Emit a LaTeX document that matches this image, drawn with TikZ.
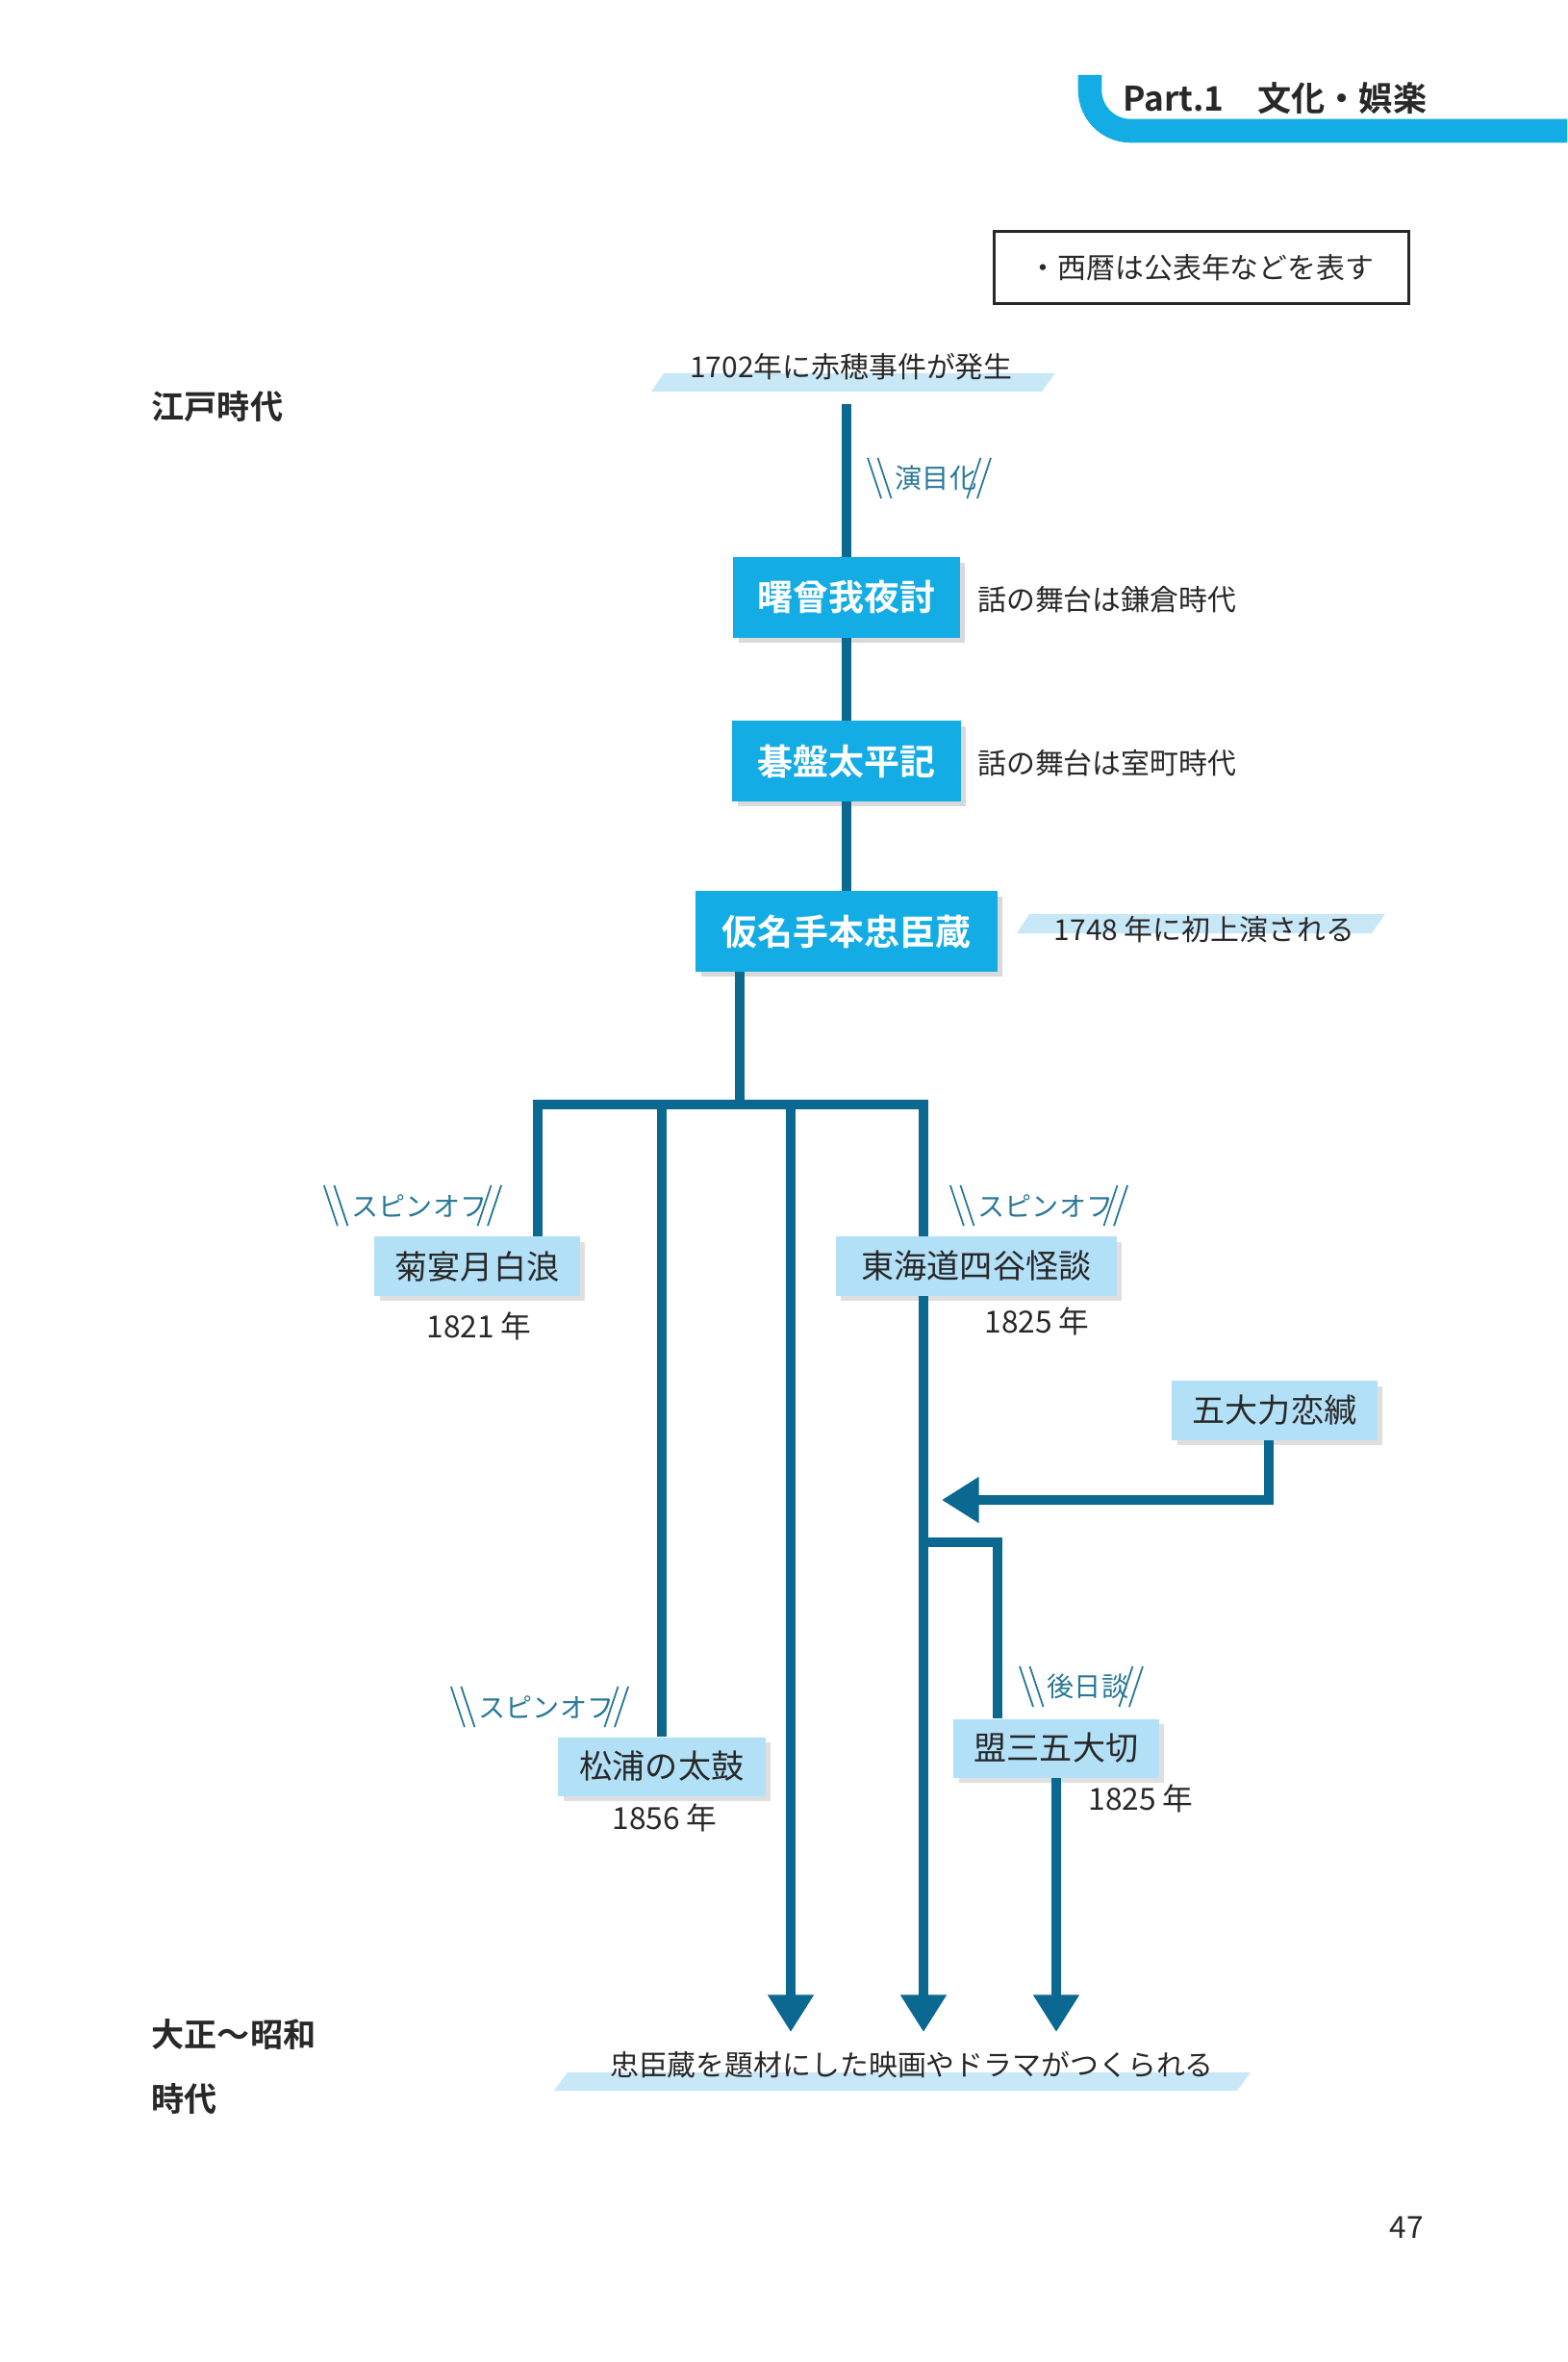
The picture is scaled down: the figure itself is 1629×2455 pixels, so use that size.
\documentclass[tikz,border=0pt]{standalone}
\usepackage{fontspec}
\setmainfont{Noto Sans CJK JP}
\newfontfamily\jpb{Noto Sans CJK JP Bold}
\usetikzlibrary{shadows,arrows.meta}
\definecolor{dk}{RGB}{10,104,145}
\definecolor{cy}{RGB}{20,172,228}
\definecolor{lb}{RGB}{178,224,246}
\definecolor{hl}{RGB}{200,232,248}
\definecolor{tl}{RGB}{40,120,150}
\definecolor{tx}{RGB}{40,40,40}
\tikzset{
 mainbox/.style={fill=cy,text=white,font=\jpb\fontsize{10.5}{12}\selectfont,inner sep=0pt,minimum height=0.83cm,drop shadow={shadow xshift=1.5pt,shadow yshift=-1.5pt,opacity=0.3}},
 subbox/.style={fill=lb,text=tx,font=\fontsize{9.7}{11}\selectfont,inner sep=0pt,minimum height=0.61cm,drop shadow={shadow xshift=1.5pt,shadow yshift=-1.5pt,opacity=0.25}},
 side/.style={text=tx,font=\fontsize{8.5}{10}\selectfont,inner sep=1pt},
 tag/.style={text=tl,font=\fontsize{8}{9}\selectfont,inner sep=1pt},
 era/.style={text=tx,font=\jpb\fontsize{9.7}{11}\selectfont,anchor=west,inner sep=0pt},
 ln/.style={draw=dk,line width=2.6pt},
 arr/.style={draw=dk,line width=2.6pt,-{Triangle[width=13pt,length=11pt]}},
 sl/.style={draw=tl,line width=0.5pt},
}
\newcommand\slashed[1]{%
 \draw[sl] ([xshift=-7pt,yshift=6pt]#1.west) -- ([xshift=-3pt,yshift=-6pt]#1.west);
 \draw[sl] ([xshift=-4pt,yshift=6pt]#1.west) -- ([xshift=0pt,yshift=-6pt]#1.west);
 \draw[sl] ([xshift=0pt,yshift=6pt]#1.east) -- ([xshift=-4pt,yshift=-6pt]#1.east);
 \draw[sl] ([xshift=3pt,yshift=6pt]#1.east) -- ([xshift=-1pt,yshift=-6pt]#1.east);
}
\begin{document}
\begin{tikzpicture}[x=0.01cm,y=-0.01cm]
\useasboundingbox (0,0) rectangle (1629,2455);
% header
\draw[draw=cy,line width=7pt,rounded corners=12pt] (1133,78) -- (1133,136) -- (1629,136);
\node[anchor=west,text=tx,font=\jpb\fontsize{10}{12}\selectfont] (hdr) at (1155,102) {Part.1\quad 文化・娯楽};
% note
\node[draw=tx,line width=1pt,minimum width=4.31cm,minimum height=0.75cm,font=\fontsize{8.5}{10}\selectfont,text=tx] (note) at (1249,278) {・西暦は公表年などを表す};
% eras
\node[era] (edo) at (157,423) {江戸時代};
\node[era] (tai1) at (157,2115) {大正〜昭和};
\node[era] (tai2) at (157,2182) {時代};
% highlights
\fill[hl] (690,388) -- (1097,388) -- (1083,407) -- (677,407) -- cycle;
\fill[hl] (1070,950) -- (1440,950) -- (1426,970) -- (1057,970) -- cycle;
\fill[hl] (590,2154) -- (1300,2154) -- (1286,2173) -- (576,2173) -- cycle;
\node[side] (ev) at (885,381) {1702年に赤穂事件が発生};
\node[side] (p1748) at (1252,966) {1748 年に初上演される};
\node[side] (film) at (948,2146) {忠臣蔵を題材にした映画やドラマがつくられる};
% main boxes
\node[mainbox,minimum width=2.35cm] (b1) at (880,621) {曙曾我夜討};
\node[mainbox,minimum width=2.37cm] (b2) at (880,791) {碁盤太平記};
\node[mainbox,minimum width=3.13cm] (b3) at (880,968) {仮名手本忠臣蔵};
\node[side,anchor=west] (s1) at (1012,623) {話の舞台は鎌倉時代};
\node[side,anchor=west] (s2) at (1012,793) {話の舞台は室町時代};
\coordinate (top) at (880,420);
\draw[ln] (top) -- (b1);
\draw[ln] (b1) -- (b2);
\draw[ln] (b2) -- (b3);
\node[tag] (t0) at (973,497) {演目化};
\slashed{t0}
% sub boxes
\node[subbox,minimum width=2.13cm] (kiku) at (496,1316) {菊宴月白浪};
\node[subbox,minimum width=2.92cm] (toka) at (1015,1316) {東海道四谷怪談};
\node[subbox,minimum width=2.13cm] (godai) at (1325,1466) {五大力恋緘};
\node[subbox,minimum width=2.13cm] (kami) at (1098,1817) {盟三五大切};
\node[subbox,minimum width=2.15cm] (matsu) at (688,1836) {松浦の太鼓};
\node[side,font=\fontsize{9}{10}\selectfont] (y1) at (498,1378) {1821 年};
\node[side,font=\fontsize{9}{10}\selectfont] (y2) at (1078,1373) {1825 年};
\node[side,font=\fontsize{9}{10}\selectfont] (y3) at (1186,1869) {1825 年};
\node[side,font=\fontsize{9}{10}\selectfont] (y4) at (691,1889) {1856 年};
\node[tag] (t1) at (436,1253) {スピンオフ};
\node[tag] (t2) at (1087,1253) {スピンオフ};
\node[tag] (t3) at (568,1774) {スピンオフ};
\node[tag] (t4) at (1131,1753) {後日談};
\slashed{t1}\slashed{t2}\slashed{t3}\slashed{t4}
% tree
\coordinate (j0) at (769,1148);
\coordinate (jl) at (559,1148);
\coordinate (jr) at (960,1148);
\coordinate (j2) at (688,1148);
\coordinate (j3) at (822,1148);
\coordinate (e3) at (822,2112);
\coordinate (e4) at (960,2112);
\coordinate (e5) at (1098,2112);
\coordinate (bt) at (960,1603);
\coordinate (br) at (1037,1603);
\coordinate (gc) at (1319,1559);
\coordinate (ge) at (979,1559);
\draw[ln] (b3.south -| j0) -- (j0);
\draw[ln,line cap=rect] (jl) -- (jr);
\draw[ln] (jl) -- (kiku.north -| jl);
\draw[ln] (jr) -- (toka.north -| jr);
\draw[ln] (j2) -- (matsu.north -| j2);
\draw[arr] (j3) -- (e3);
\draw[arr] (toka.south -| e4) -- (e4);
\draw[arr] (godai.south -| gc) -- (gc) -- (ge);
\draw[ln] (bt) -- (br) -- (kami.north -| br);
\draw[arr] (kami.south -| e5) -- (e5);
% page number
\node[font=\fontsize{9}{10}\selectfont,text=tx] (pg) at (1462,2315) {47};
\end{tikzpicture}
\end{document}
